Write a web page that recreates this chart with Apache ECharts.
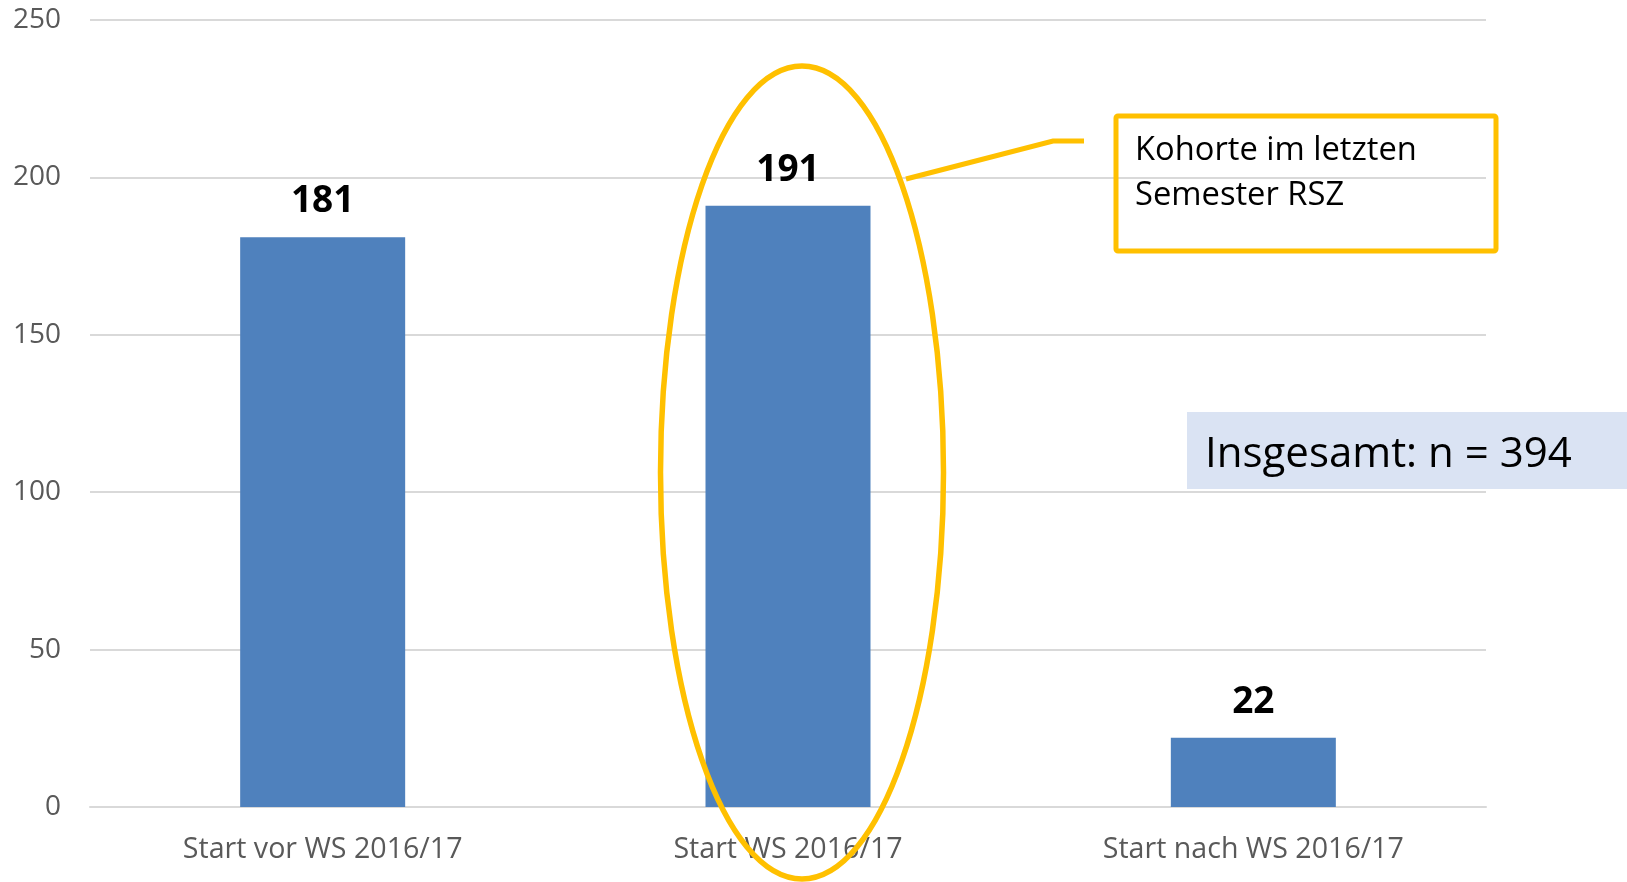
<!DOCTYPE html>
<html>
<head>
<meta charset="utf-8">
<title>Kohorten</title>
<script src="https://cdn.jsdelivr.net/npm/echarts@6/dist/echarts.min.js"></script>
<style>
	html, body { margin: 0; padding: 0; background: #fff; }
	#main { width: 1627px; height: 882px; }
</style>
</head>
<body>
<div id="main"></div>
<script>
// Daten
var kategorien = ['Start vor WS 2016/17', 'Start WS 2016/17', 'Start nach WS 2016/17'];
var anzahl = [181, 191, 22];
var yTicks = [0, 50, 100, 150, 200, 250];

var boxText = 'Kohorte im letzten\nSemester RSZ';
var summeText = 'Insgesamt: n = 394';

var gelb = '#FFC000';
var schrift = '"Open Sans", "Liberation Sans", sans-serif';

var chart = echarts.init(document.getElementById('main'));

var option = {
	animation: false,
	grid: {
		left: 90,
		right: 141,
		top: 20,
		bottom: 75
	},
	xAxis: {
		type: 'category',
		data: kategorien,
		axisTick: { show: false },
		axisLine: { lineStyle: { color: '#d9d9d9', width: 2 } },
		axisLabel: {
			color: '#595959',
			fontSize: 28.6,
			fontFamily: schrift,
			margin: 28
		}
	},
	yAxis: {
		type: 'value',
		min: yTicks[0],
		max: yTicks[yTicks.length - 1],
		interval: yTicks[1] - yTicks[0],
		axisLine: { show: false },
		axisTick: { show: false },
		splitLine: { lineStyle: { color: '#d9d9d9', width: 2 } },
		axisLabel: {
			color: '#595959',
			fontSize: 28,
			fontFamily: schrift,
			margin: 29
		}
	},
	series: [{
		type: 'bar',
		data: anzahl,
		barWidth: 165,
		itemStyle: { color: '#4f81bd' },
		label: {
			show: true,
			position: 'top',
			distance: 17,
			color: '#000',
			fontSize: 37,
			fontWeight: 'bold',
			fontFamily: schrift
		}
	}],
	graphic: [
		// Ellipse um den mittleren Balken
		{
			type: 'ellipse',
			z: 100,
			shape: { cx: 802, cy: 472.5, rx: 141.5, ry: 406.5 },
			style: { fill: 'none', stroke: gelb, lineWidth: 5.5 }
		},
		// Verbindungslinie zur Box
		{
			type: 'polyline',
			z: 100,
			shape: { points: [[906, 179], [1053, 141], [1084, 141]] },
			style: { fill: 'none', stroke: gelb, lineWidth: 5 }
		},
		// Box mit Text
		{
			type: 'rect',
			z: 100,
			shape: { x: 1116, y: 116, width: 380, height: 135, r: 2 },
			style: { fill: 'none', stroke: gelb, lineWidth: 5 }
		},
		{
			type: 'text',
			z: 101,
			x: 1135,
			y: 128,
			style: {
				text: boxText,
				fill: '#000',
				font: '32.7px ' + schrift,
				lineHeight: 45,
				textVerticalAlign: 'top'
			}
		},
		// Gesamtzahl
		{
			type: 'rect',
			z: 100,
			shape: { x: 1187, y: 412, width: 440, height: 77 },
			style: { fill: '#dae3f3' }
		},
		{
			type: 'text',
			z: 101,
			x: 1205,
			y: 455,
			style: {
				text: summeText,
				fill: '#000',
				font: '42px ' + schrift,
				textVerticalAlign: 'middle'
			}
		}
	]
};

chart.setOption(option);
</script>
</body>
</html>
